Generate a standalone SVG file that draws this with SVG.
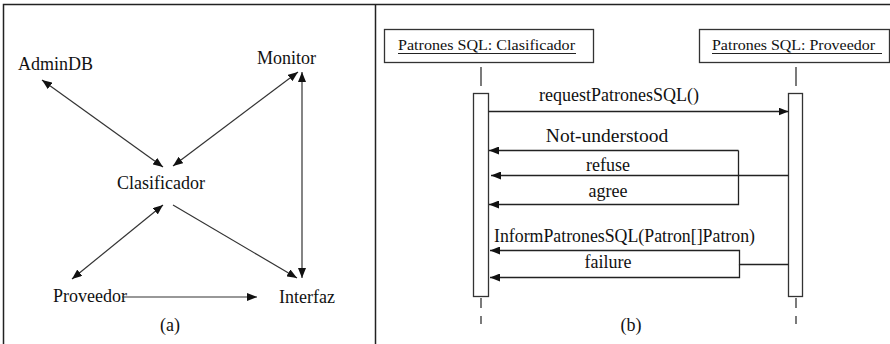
<svg xmlns="http://www.w3.org/2000/svg" width="890" height="344" viewBox="0 0 890 344" font-family="'Liberation Serif', 'Times New Roman', 'DejaVu Serif', serif">
  <style>
    text { font-family: "Liberation Serif", "Times New Roman", "DejaVu Serif", serif; fill: #111; }
    .lbl { font-size: 18px; }
    .hd { font-size: 15.5px; }
    .frame { stroke: #222; stroke-width: 1.5; fill: none; }
    .ln { stroke: #333; stroke-width: 1.2; fill: none; }
    .msg { stroke: #222; stroke-width: 1.3; fill: none; }
    .box { fill: #fff; stroke: #333; stroke-width: 1.3; }
    .life { stroke: #333; stroke-width: 1.3; }
    .ul { stroke: #222; stroke-width: 1; }
  </style>
  <defs>
    <marker id="arr" viewBox="0 0 10 8" refX="10" refY="4" markerWidth="10" markerHeight="8" markerUnits="userSpaceOnUse" orient="auto-start-reverse">
      <path d="M0,0 L10,4 L0,8 Z" fill="#111"/>
    </marker>
    <marker id="arrS" viewBox="0 0 10 8" refX="10" refY="4" markerWidth="10" markerHeight="8" markerUnits="userSpaceOnUse" orient="auto">
      <path d="M0,0 L10,4 L0,8 Z" fill="#111"/>
    </marker>
  </defs>

  <!-- outer frame and panel divider -->
  <g id="frame">
    <path class="frame" d="M3.5,344 V4.5 H890"/>
    <path class="frame" d="M375.5,4.5 V344"/>
  </g>

  <!-- (a) collaboration view -->
  <g id="node-admindb"><text class="lbl" x="18" y="70">AdminDB</text></g>
  <g id="node-monitor"><text class="lbl" x="257" y="64">Monitor</text></g>
  <g id="node-clasificador"><text class="lbl" x="117" y="189">Clasificador</text></g>
  <g id="node-proveedor"><text class="lbl" x="53" y="302">Proveedor</text></g>
  <g id="node-interfaz"><text class="lbl" x="279" y="303">Interfaz</text></g>
  <text class="lbl" x="170" y="331" text-anchor="middle">(a)</text>

  <g id="connectors-a">
    <line class="ln" x1="42" y1="80" x2="163" y2="167" marker-start="url(#arr)" marker-end="url(#arr)"/>
    <line class="ln" x1="298" y1="72" x2="173" y2="166" marker-start="url(#arr)" marker-end="url(#arr)"/>
    <line class="ln" x1="302" y1="72" x2="302" y2="278" marker-start="url(#arr)" marker-end="url(#arr)"/>
    <line class="ln" x1="173" y1="205" x2="297" y2="278" marker-end="url(#arr)"/>
    <line class="ln" x1="163" y1="205" x2="72" y2="279" marker-start="url(#arr)" marker-end="url(#arr)"/>
    <line class="ln" x1="122" y1="297" x2="257" y2="297" marker-end="url(#arr)"/>
  </g>

  <!-- (b) sequence view -->
  <g id="obj-clasificador">
    <rect class="box" x="384.5" y="29.5" width="209" height="33"/>
    <text class="hd" x="398" y="50" textLength="177" lengthAdjust="spacingAndGlyphs">Patrones SQL: Clasificador</text>
    <line class="ul" x1="398" y1="53.5" x2="576" y2="53.5"/>
    <line class="life" x1="481" y1="67" x2="481" y2="86"/>
    <rect class="box" x="473.5" y="93.5" width="15" height="203"/>
    <line class="life" x1="481" y1="298" x2="481" y2="308"/>
    <line class="life" x1="481" y1="316" x2="481" y2="324"/>
  </g>

  <g id="obj-proveedor">
    <rect class="box" x="699.5" y="29.5" width="190" height="33"/>
    <text class="hd" x="712" y="50" textLength="163" lengthAdjust="spacingAndGlyphs">Patrones SQL: Proveedor</text>
    <line class="ul" x1="712" y1="53.5" x2="882" y2="53.5"/>
    <line class="life" x1="796" y1="67" x2="796" y2="86"/>
    <rect class="box" x="788.5" y="93.5" width="14" height="203"/>
    <line class="life" x1="796" y1="298" x2="796" y2="308"/>
    <line class="life" x1="796" y1="316" x2="796" y2="324"/>
  </g>

  <g id="connectors-b">
    <line class="msg" x1="488.5" y1="111.5" x2="788.5" y2="111.5" marker-end="url(#arrS)"/>
    <path class="msg" d="M738.5,150.5 H489" marker-end="url(#arrS)"/>
    <path class="msg" d="M788.5,175.5 H491" marker-end="url(#arrS)"/>
    <path class="msg" d="M738.5,150.5 V204.5 H489" marker-end="url(#arrS)"/>
    <path class="msg" d="M788.5,264.5 H739.5 V250.5 H490" marker-end="url(#arrS)"/>
    <path class="msg" d="M739.5,264.5 V277.5 H490" marker-end="url(#arrS)"/>
  </g>

  <g id="labels-b">
    <text class="lbl" x="619" y="101" text-anchor="middle">requestPatronesSQL()</text>
    <text class="lbl" x="607" y="142" text-anchor="middle" style="font-size:19.5px">Not-understood</text>
    <text class="lbl" x="608" y="171" text-anchor="middle">refuse</text>
    <text class="lbl" x="608" y="197" text-anchor="middle">agree</text>
    <text class="lbl" x="494" y="242" textLength="261" lengthAdjust="spacingAndGlyphs">InformPatronesSQL(Patron[]Patron)</text>
    <text class="lbl" x="608" y="268" text-anchor="middle">failure</text>
    <text class="lbl" x="631" y="331" text-anchor="middle">(b)</text>
  </g>
</svg>
